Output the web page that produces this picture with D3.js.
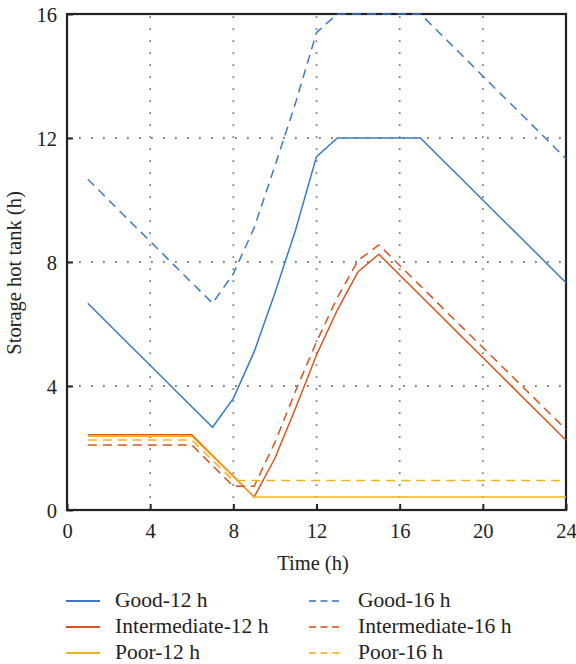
<!DOCTYPE html>
<html>
<head>
<meta charset="utf-8">
<script src="https://cdn.jsdelivr.net/npm/d3@7"></script>
<style>
  html, body { margin: 0; padding: 0; background: #fff; }
  svg { display: block; }
  text { font-family: "Liberation Serif", "Times New Roman", serif; fill: #222; }
</style>
</head>
<body>
<svg id="chart" width="576" height="664"></svg>
<script>
const hours = d3.range(1, 25);
const good12 = [6.67, 6.0, 5.33, 4.67, 4.0, 3.33, 2.67, 3.6, 5.1, 7.0, 9.05, 11.4, 12, 12, 12, 12, 12, 11.33, 10.67, 10.0, 9.33, 8.67, 8.0, 7.33];
const good16 = [10.67, 10.0, 9.33, 8.67, 8.0, 7.33, 6.67, 7.62, 9.1, 11.1, 13.15, 15.4, 16, 16, 16, 16, 16, 15.33, 14.67, 14.0, 13.33, 12.67, 12.0, 11.33];
const inter12 = [2.43, 2.43, 2.43, 2.43, 2.43, 2.43, 1.76, 1.09, 0.42, 1.67, 3.3, 5.0, 6.45, 7.69, 8.25, 7.58, 6.92, 6.25, 5.58, 4.92, 4.25, 3.58, 2.92, 2.25];
const inter16 = [2.1, 2.1, 2.1, 2.1, 2.1, 2.1, 1.43, 0.77, 0.77, 2.18, 3.85, 5.42, 6.85, 8.05, 8.55, 7.89, 7.23, 6.56, 5.9, 5.24, 4.58, 3.92, 3.26, 2.6];
const poor12 = [2.38, 2.38, 2.38, 2.38, 2.38, 2.38, 1.73, 1.07, 0.42, 0.42, 0.42, 0.42, 0.42, 0.42, 0.42, 0.42, 0.42, 0.42, 0.42, 0.42, 0.42, 0.42, 0.42, 0.42];
const poor16 = [2.26, 2.26, 2.26, 2.26, 2.26, 2.26, 1.6, 0.95, 0.95, 0.95, 0.95, 0.95, 0.95, 0.95, 0.95, 0.95, 0.95, 0.95, 0.95, 0.95, 0.95, 0.95, 0.95, 0.95];
const xTicks = [0, 4, 8, 12, 16, 20, 24];
const yTicks = [0, 4, 8, 12, 16];
const seriesNames = ["Good-12 h", "Intermediate-12 h", "Poor-12 h", "Good-16 h", "Intermediate-16 h", "Poor-16 h"];

const colors = { good: "#3b7bc4", inter: "#d9531e", poor: "#f0b21e" };
const series = [
  { name: seriesNames[0], values: good12, color: colors.good, dash: null },
  { name: seriesNames[1], values: inter12, color: colors.inter, dash: null },
  { name: seriesNames[2], values: poor12, color: colors.poor, dash: null },
  { name: seriesNames[3], values: good16, color: colors.good, dash: "9,6" },
  { name: seriesNames[4], values: inter16, color: colors.inter, dash: "9,6" },
  { name: seriesNames[5], values: poor16, color: colors.poor, dash: "9,6" }
];

const svg = d3.select("#chart");
const L = 67, R = 566, T = 14, B = 510;
const x = d3.scaleLinear().domain([0, 24]).range([L, R]);
const y = d3.scaleLinear().domain([0, 16]).range([B, T]);

// grid
const grid = svg.append("g");
grid.selectAll("line.gx").data(xTicks.filter(d => d > 0 && d < 24)).join("line")
  .attr("x1", d => x(d)).attr("x2", d => x(d)).attr("y1", B).attr("y2", T)
  .attr("stroke", "#808080").attr("stroke-width", 1.8).attr("stroke-dasharray", "1.8,10.2");
grid.selectAll("line.gy").data(yTicks.filter(d => d > 0 && d < 16)).join("line")
  .attr("x1", L).attr("x2", R).attr("y1", d => y(d)).attr("y2", d => y(d))
  .attr("stroke", "#808080").attr("stroke-width", 1.8).attr("stroke-dasharray", "1.8,10.2");

// axes with inward ticks
const xAxis = svg.append("g").attr("transform", `translate(0,${B})`)
  .call(d3.axisBottom(x).tickValues(xTicks).tickSizeInner(-6).tickSizeOuter(0).tickPadding(12));
const yAxis = svg.append("g").attr("transform", `translate(${L},0)`)
  .call(d3.axisLeft(y).tickValues(yTicks).tickSizeInner(-6).tickSizeOuter(0).tickPadding(10));
[xAxis, yAxis].forEach(a => {
  a.select(".domain").remove();
  a.selectAll(".tick line").attr("stroke", "#222").attr("stroke-width", 2);
  a.selectAll(".tick text").attr("font-family", "Liberation Serif, serif").attr("font-size", 20.5).attr("fill", "#222");
});
xAxis.selectAll(".tick text").attr("dy", "0.72em").attr("y", 13);
yAxis.selectAll(".tick text").attr("dy", "0.36em");

// frame
svg.append("rect").attr("x", L).attr("y", T).attr("width", R - L).attr("height", B - T)
  .attr("fill", "none").attr("stroke", "#222").attr("stroke-width", 2.2);

// lines
const line = d3.line().x((d, i) => x(hours[i])).y(d => y(d));
svg.append("g").selectAll("path").data(series).join("path")
  .attr("d", d => line(d.values))
  .attr("fill", "none")
  .attr("stroke", d => d.color)
  .attr("stroke-width", 1.5)
  .attr("stroke-dasharray", d => d.dash);

// titles
svg.append("text").attr("x", 313).attr("y", 570).attr("text-anchor", "middle")
  .attr("font-size", 20.5).text("Time (h)");
svg.append("text").attr("transform", "translate(21,273) rotate(-90)").attr("text-anchor", "middle")
  .attr("font-size", 20.5).text("Storage hot tank (h)");

// legend
const legCols = [66, 309];
const legRows = [607, 633, 659];
series.forEach((s, i) => {
  const col = Math.floor(i / 3), row = i % 3;
  const lx = legCols[col], ly = legRows[row];
  svg.append("line").attr("x1", lx).attr("x2", lx + 34).attr("y1", ly - 6).attr("y2", ly - 6)
    .attr("stroke", s.color).attr("stroke-width", 2)
    .attr("stroke-opacity", s.dash ? 0.8 : 1)
    .attr("stroke-dasharray", s.dash ? "7,4.5" : null);
  svg.append("text").attr("x", lx + 49).attr("y", ly).attr("font-size", 21.5).text(s.name);
});
</script>
</body>
</html>
